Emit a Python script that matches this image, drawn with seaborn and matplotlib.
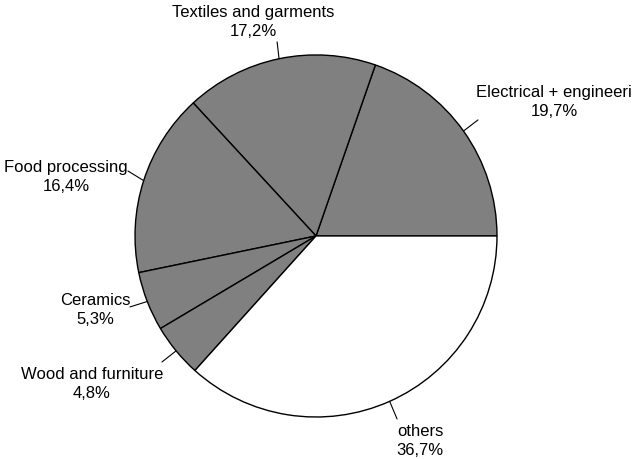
import numpy as np
import matplotlib
matplotlib.use("Agg")
import matplotlib.pyplot as plt
import seaborn as sns

# sector shares (%), counterclockwise from 3 o'clock
sectors = ["Electrical + engineeri", "Textiles and garments", "Food processing",
           "Ceramics", "Wood and furniture", "others"]
shares = [19.7, 17.2, 16.4, 5.3, 4.8, 36.7]
share_labels = ["19,7%", "17,2%", "16,4%", "5,3%", "4,8%", "36,7%"]

# label placement (pie radius = 1) and where each leader line stops
label_pos = [(1.315, 0.746), (-0.348, 1.188), (-1.381, 0.331),
             (-1.221, -0.403), (-1.238, -0.812), (0.575, -1.127)]
leader_end = [(0.895, 0.641), (-0.215, 1.072), (-1.039, 0.359),
              (-1.028, -0.392), (-0.851, -0.696), (0.448, -1.011)]

sns.set_style("white")
plt.rcParams["font.family"] = ["Liberation Sans", "DejaVu Sans"]

fig = plt.figure(figsize=(6.34, 4.6), dpi=100)
ax = fig.add_axes([0, 0, 1, 1])

colors = ["#808080"] * 5 + ["#ffffff"]
wedges, _ = ax.pie(shares, colors=colors, startangle=0, counterclock=True,
                   radius=1, wedgeprops=dict(edgecolor="black", linewidth=1))

for w, name, pct, (tx, ty), (lx, ly) in zip(wedges, sectors, share_labels,
                                             label_pos, leader_end):
    mid = np.deg2rad((w.theta1 + w.theta2) / 2)
    ex, ey = np.cos(mid), np.sin(mid)
    ax.plot([ex, lx], [ey, ly], color="black", lw=0.8)
    ax.text(tx, ty, f"{name}\n{pct}", ha="center", va="center",
            fontsize=12, linespacing=1.35, color="black")

ax.set_xlim(-1.746, 1.757)
ax.set_ylim(-1.232, 1.309)
ax.set_aspect("auto")
ax.axis("off")

fig.savefig("out.png", dpi=100, facecolor="white")
